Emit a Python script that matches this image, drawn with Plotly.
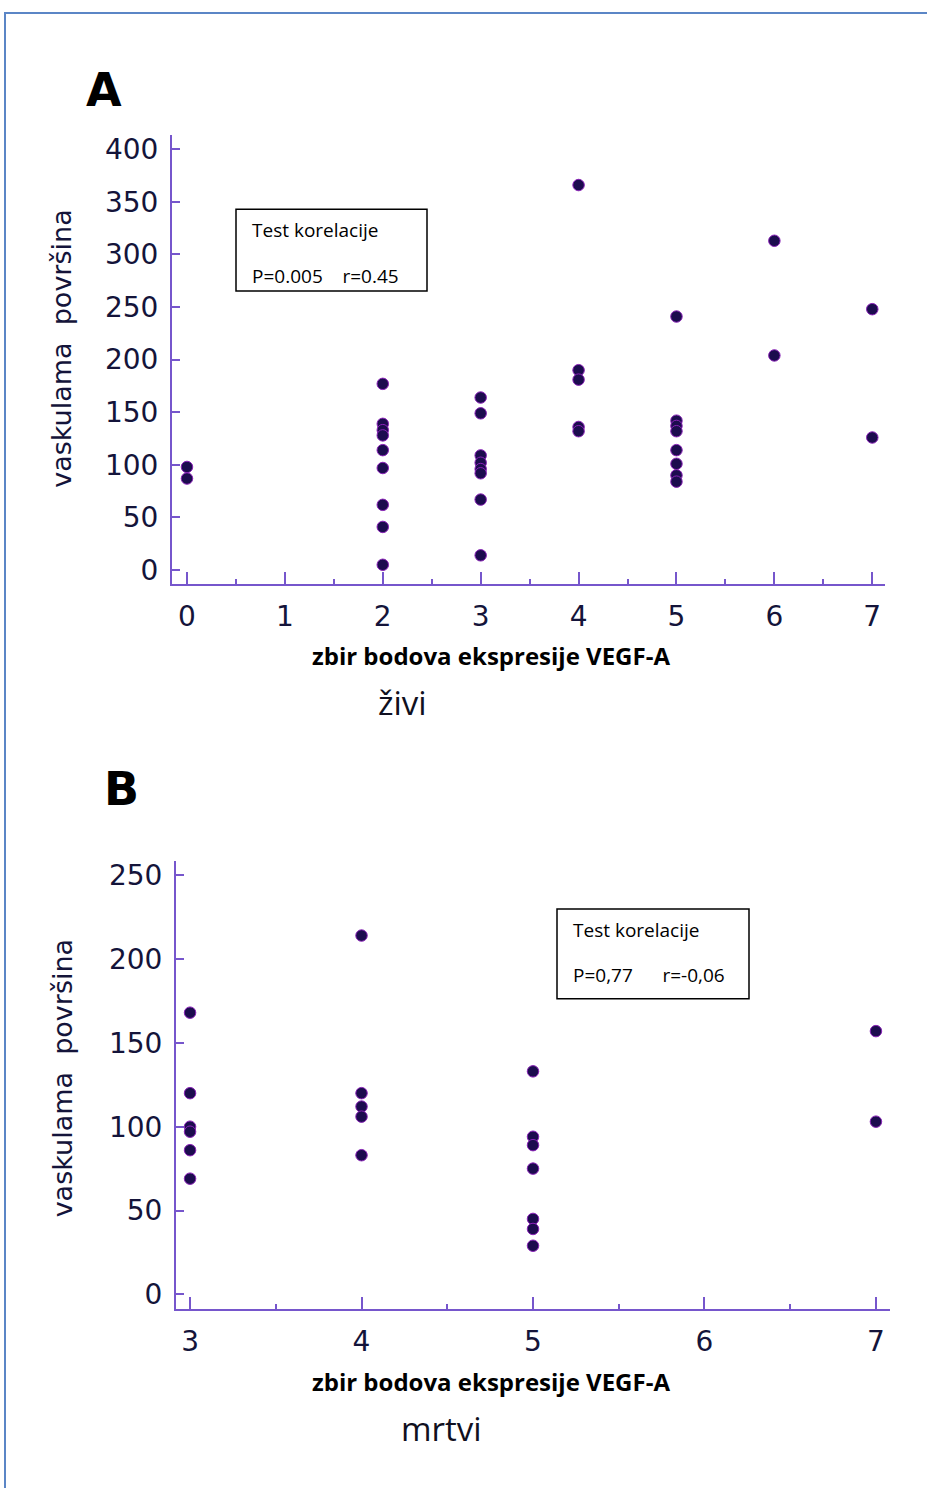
import plotly.graph_objects as go

W, H = 927, 1488

# ---------------- data ----------------
# Panel A (živi)
a_x = [0, 0,
       2, 2, 2, 2, 2, 2, 2, 2, 2,
       3, 3, 3, 3, 3, 3, 3, 3,
       4, 4, 4, 4, 4,
       5, 5, 5, 5, 5, 5, 5, 5,
       6, 6,
       7, 7]
a_y = [98, 87,
       177, 139, 133, 128, 114, 97, 62, 41, 5,
       164, 149, 109, 102, 96, 92, 67, 14,
       366, 190, 181, 136, 132,
       241, 142, 137, 132, 114, 101, 90, 84,
       313, 204,
       248, 126]

# Panel B (mrtvi)
b_x = [3, 3, 3, 3, 3, 3,
       4, 4, 4, 4, 4,
       5, 5, 5, 5, 5, 5, 5,
       7, 7]
b_y = [168, 120, 100, 97, 86, 69,
       214, 120, 112, 106, 83,
       133, 94, 89, 75, 45, 39, 29,
       157, 103]

a_xticks = [0, 1, 2, 3, 4, 5, 6, 7]
a_yticks = [0, 50, 100, 150, 200, 250, 300, 350, 400]
b_xticks = [3, 4, 5, 6, 7]
b_yticks = [0, 50, 100, 150, 200, 250]

y_title = "vaskulama  površina"
x_title = "zbir bodova ekspresije VEGF-A"
group_a = "živi"
group_b = "mrtvi"
stat_title = "Test korelacije"
stat_a = "P=0.005    r=0.45"
stat_b = "P=0,77      r=-0,06"

# ---------------- helpers ----------------
def px(x):
    return x / W

def py(y):
    return 1 - y / H

AXIS_COLOR = "#7656cc"
TICK_FONT = dict(family="DejaVu Sans, Arial", size=28, color="#14143a")
MARKER = dict(size=11.5, color="#1c0c4e", line=dict(color="#8a22b8", width=1))

fig = go.Figure()
fig.add_trace(go.Scatter(x=a_x, y=a_y, mode="markers", marker=MARKER,
                         xaxis="x", yaxis="y", showlegend=False))
fig.add_trace(go.Scatter(x=b_x, y=b_y, mode="markers", marker=MARKER,
                         xaxis="x2", yaxis="y2", showlegend=False))

def xaxis(domain, rng, ticks):
    return dict(domain=domain, range=rng, tickvals=ticks, ticktext=[str(t) for t in ticks],
                showgrid=False, zeroline=False, showline=True, linecolor=AXIS_COLOR, linewidth=2,
                ticks="inside", ticklen=12, tickwidth=1.5, tickcolor=AXIS_COLOR,
                tickfont=TICK_FONT, ticklabelstandoff=6,
                minor=dict(dtick=0.5, tick0=0, ticks="inside", ticklen=5, tickcolor=AXIS_COLOR, tickwidth=1.5),
                fixedrange=True)

def yaxis(domain, rng, ticks, anchor):
    return dict(domain=domain, range=rng, tickvals=ticks, ticktext=[str(t) for t in ticks],
                showgrid=False, zeroline=False, showline=True, linecolor=AXIS_COLOR, linewidth=2,
                ticks="inside", ticklen=8, tickwidth=1.5, tickcolor=AXIS_COLOR,
                tickfont=TICK_FONT, ticklabelstandoff=6, anchor=anchor, fixedrange=True)

fig.update_layout(
    width=W, height=H,
    margin=dict(l=0, r=0, t=0, b=0),
    paper_bgcolor="white", plot_bgcolor="white",
    xaxis=dict(**xaxis([px(172), px(885)], [-0.153, 7.13], a_xticks), anchor="y"),
    yaxis=yaxis([py(584), py(133)], [-13.3, 414], a_yticks, "x"),
    xaxis2=dict(**xaxis([px(176), px(890)], [2.918, 7.082], b_xticks), anchor="y2"),
    yaxis2=yaxis([py(1311.7), py(862)], [-8.9, 258.4], b_yticks, "x2"),
)

shapes = [
    # outer frame
    dict(type="rect", xref="paper", yref="paper", x0=px(5), x1=px(940), y0=py(1500), y1=py(11),
         line=dict(color="#5b86c6", width=2), fillcolor="rgba(0,0,0,0)", layer="below"),
    # stat boxes
    dict(type="rect", xref="paper", yref="paper", x0=px(236), x1=px(427), y0=py(290), y1=py(208),
         line=dict(color="black", width=1.5)),
    dict(type="rect", xref="paper", yref="paper", x0=px(557), x1=px(749), y0=py(1000), y1=py(910),
         line=dict(color="black", width=1.5)),
]
fig.update_layout(shapes=shapes)

def ann(text, x, y, size, family, xanchor="center", bold=False, color="black", angle=0):
    t = f"<b>{text}</b>" if bold else text
    return dict(text=t, x=px(x), y=py(y), xref="paper", yref="paper", showarrow=False,
                xanchor=xanchor, yanchor="middle", textangle=angle,
                font=dict(size=size, family=family, color=color))

BOX_FONT = "Open Sans, Lato, sans-serif"
anns = [
    ann("A", 104, 88, 46, "DejaVu Sans, Arial", bold=True),
    ann("B", 121, 790, 46, "DejaVu Sans, Arial", bold=True),
    ann(y_title, 62, 348, 27, "DejaVu Sans, Arial", color="#14143a", angle=-90),
    ann(y_title, 62, 1080, 27, "DejaVu Sans, Arial", color="#14143a", angle=-90),
    ann(x_title, 491, 656, 24, "Open Sans, Lato", bold=True),
    ann(x_title, 491, 1384, 24, "Open Sans, Lato", bold=True),
    ann(group_a, 402, 703, 33, "Open Sans, Lato", color="#101020"),
    ann(group_b, 441, 1431, 33, "Open Sans, Lato", color="#101020"),
    ann(stat_title, 250, 229, 19, BOX_FONT, xanchor="left"),
    ann(stat_a, 250, 275, 19, BOX_FONT, xanchor="left"),
    ann(stat_title, 571, 931, 19, BOX_FONT, xanchor="left"),
    ann(stat_b, 571, 976, 19, BOX_FONT, xanchor="left"),
]
fig.update_layout(annotations=anns)

fig.write_html("out.html", config={"displayModeBar": False},
               post_script="document.body.style.margin='0';document.body.style.overflow='hidden';")
